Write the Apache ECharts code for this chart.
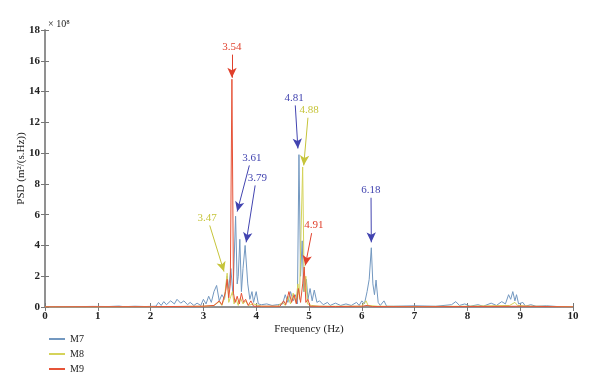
<!DOCTYPE html>
<html><head><meta charset="utf-8">
<script src="https://cdn.jsdelivr.net/npm/echarts@6/dist/echarts.min.js"></script>
<style>html,body{margin:0;padding:0;background:#fff}#c{width:600px;height:392px}</style>
</head><body><div id="c"></div>
<script>
const xTicks = [0,1,2,3,4,5,6,7,8,9,10];
const yTicks = [0,2,4,6,8,10,12,14,16,18];
const seriesNames = ['M7','M8','M9'];
const M7 = [[0,0.02],[0.3,0.03],[0.6,0.02],[0.9,0.04],[1.2,0.03],[1.4,0.06],[1.5,0.02],[1.7,0.05],[1.9,0.03],[2.1,0.05],
[2.15,0.3],[2.2,0.1],[2.25,0.35],[2.3,0.15],[2.38,0.4],[2.45,0.2],[2.5,0.5],[2.57,0.25],[2.63,0.4],[2.7,0.15],[2.75,0.3],[2.82,0.1],[2.88,0.25],[2.95,0.1],[3.0,0.5],[3.05,0.2],[3.1,0.7],[3.15,0.3],[3.2,1.0],[3.25,1.4],[3.3,0.4],[3.35,0.8],[3.4,0.5],[3.45,2.0],[3.48,1.2],[3.52,2.5],[3.56,0.8],[3.61,5.9],[3.64,1.5],[3.66,2.0],[3.69,4.4],[3.72,1.0],[3.75,2.5],[3.79,4.0],[3.84,1.5],[3.88,0.5],[3.92,1.0],[3.95,0.3],[4.0,1.0],[4.04,0.2],[4.1,0.15],[4.2,0.2],[4.3,0.1],[4.4,0.15],[4.5,0.2],[4.55,0.8],[4.6,0.3],[4.65,1.0],[4.7,0.4],[4.75,0.8],[4.78,0.2],[4.81,9.9],[4.84,2.0],[4.87,4.3],[4.9,1.0],[4.95,1.8],[4.98,0.5],[5.02,1.2],[5.06,0.4],[5.1,1.1],[5.15,0.3],[5.2,0.4],[5.27,0.15],[5.35,0.3],[5.4,0.1],[5.5,0.25],[5.6,0.1],[5.7,0.2],[5.8,0.1],[5.9,0.3],[5.95,0.1],[6.0,0.4],[6.05,0.2],[6.1,1.0],[6.14,1.8],[6.18,3.85],[6.21,1.5],[6.24,0.8],[6.27,1.75],[6.31,0.3],[6.35,0.1],[6.42,0.4],[6.47,0.05],
[6.6,0.05],[7.0,0.08],[7.4,0.05],[7.7,0.15],[7.78,0.35],[7.85,0.1],[7.95,0.2],[8.05,0.05],[8.2,0.15],[8.3,0.05],[8.45,0.25],[8.55,0.1],[8.65,0.35],[8.72,0.2],[8.78,0.8],[8.82,0.5],[8.86,1.0],[8.9,0.4],[8.93,0.8],[8.97,0.2],[9.05,0.3],[9.1,0.05],[9.2,0.15],[9.3,0.05],[9.5,0.08],[9.7,0.03],[10,0.02]];
const M8 = [[0,0.01],[1,0.01],[2,0.02],[2.5,0.03],[3.0,0.05],[3.2,0.1],[3.3,0.35],[3.35,0.1],[3.4,0.6],[3.45,2.2],[3.48,0.3],[3.52,0.7],[3.55,1.0],[3.58,0.2],[3.62,0.5],[3.66,0.1],[3.7,0.6],[3.75,0.2],[3.8,0.4],[3.85,0.1],[3.95,0.2],[4.1,0.05],[4.4,0.05],[4.5,0.3],[4.55,0.1],[4.6,0.7],[4.65,0.2],[4.7,0.9],[4.75,0.3],[4.79,1.5],[4.82,0.5],[4.85,5.0],[4.88,9.1],[4.91,1.0],[4.94,2.0],[4.97,0.2],[5.05,0.1],[5.2,0.05],[5.6,0.05],[6.0,0.05],[6.08,0.4],[6.12,0.1],[6.3,0.05],[7,0.03],[8,0.05],[8.8,0.1],[8.9,0.3],[8.95,0.1],[9.2,0.05],[10,0.02]];
const M9 = [[0,0.01],[1,0.02],[2,0.02],[3,0.05],[3.2,0.1],[3.3,0.4],[3.35,0.15],[3.42,1.0],[3.45,1.8],[3.48,0.6],[3.51,1.5],[3.54,14.8],[3.57,0.9],[3.6,0.3],[3.64,0.7],[3.68,0.2],[3.72,0.9],[3.76,0.3],[3.8,0.5],[3.85,0.1],[3.9,0.4],[3.95,0.05],[4.1,0.05],[4.45,0.05],[4.52,0.4],[4.56,0.15],[4.62,1.0],[4.67,0.3],[4.72,0.8],[4.76,0.2],[4.8,1.2],[4.84,0.3],[4.88,1.5],[4.91,2.6],[4.94,0.3],[4.98,0.5],[5.02,0.05],[5.5,0.03],[6.0,0.05],[6.1,0.1],[6.2,0.03],[7,0.02],[8,0.03],[9,0.05],[10,0.01]];
// annotations: label, label position, arrow start, arrow end (data units)
const annM7 = [['3.61',[3.92,9.7],[3.87,9.2],[3.64,6.2]],['3.79',[4.02,8.4],[3.98,7.9],[3.81,4.2]],['4.81',[4.72,13.6],[4.74,13.1],[4.79,10.3]],['6.18',[6.17,7.6],[6.175,7.1],[6.18,4.2]]];
const annM8 = [['3.47',[3.07,5.8],[3.12,5.3],[3.39,2.3]],['4.88',[5.0,12.8],[4.98,12.3],[4.9,9.2]]];
const annM9 = [['3.54',[3.54,16.9],[3.545,16.4],[3.54,14.9]],['4.91',[5.09,5.3],[5.05,4.8],[4.93,2.7]]];

const colors = ['#7398c0','#d5d35a','#e65338'];
const annColors = ['#4244b0','#c6c43a','#e0402c'];
const font = '"Liberation Serif","DejaVu Serif",serif';

function ann(list, c){
  return {
    markLine:{silent:true,symbol:['none','arrow'],symbolSize:[7,10],animation:false,
      lineStyle:{color:c,width:1,type:'solid'},label:{show:false},
      data:list.map(a=>[{coord:a[2]},{coord:a[3]}])},
    markPoint:{silent:true,symbol:'circle',symbolSize:1,itemStyle:{color:'rgba(0,0,0,0)'},animation:false,
      label:{show:true,position:'inside',color:c,fontFamily:font,fontSize:11},
      data:list.map(a=>({coord:a[1],value:a[0],label:{formatter:a[0]}}))}
  };
}

const chart = echarts.init(document.getElementById('c'));
const axisLine = {show:true,lineStyle:{color:'#8a8a8a',width:1.5}};
chart.setOption({
  animation:false,
  grid:{left:45,right:27,top:30,bottom:85},
  legend:{orient:'vertical',left:44,top:329,itemWidth:16,itemHeight:2,itemGap:5,
    icon:'rect',data:seriesNames,textStyle:{fontFamily:font,fontSize:10,color:'#222'}},
  graphic:[{type:'text',left:48,top:19,style:{text:'× 10⁸',font:'10px '+font,fill:'#222'}}],
  xAxis:[{type:'value',min:0,max:10,interval:1,position:'bottom',
    name:'Frequency (Hz)',nameLocation:'middle',nameGap:17,nameMoveOverlap:false,
    nameTextStyle:{fontFamily:font,fontSize:11,color:'#222'},
    axisLine:axisLine,axisTick:{inside:true,length:4,lineStyle:{color:'#777'}},
    axisLabel:{fontFamily:font,fontSize:11,color:'#222',fontWeight:'bold',margin:4,
      formatter:v=>xTicks.includes(v)?String(v):''},splitLine:{show:false}},
   {type:'value',min:0,max:10,interval:1,position:'top',axisLine:axisLine,
    axisTick:{inside:true,length:4,lineStyle:{color:'#777'}},axisLabel:{show:false},splitLine:{show:false}}],
  yAxis:[{type:'value',min:0,max:18,interval:2,position:'left',
    name:'PSD (m²/(s.Hz))',nameLocation:'middle',nameGap:18,nameMoveOverlap:false,
    nameTextStyle:{fontFamily:font,fontSize:11,color:'#222'},
    axisLine:axisLine,axisTick:{inside:true,length:4,lineStyle:{color:'#777'}},
    axisLabel:{fontFamily:font,fontSize:11,color:'#222',fontWeight:'bold',margin:5,
      formatter:v=>yTicks.includes(v)?String(v):''},splitLine:{show:false}},
   {type:'value',min:0,max:18,interval:2,position:'right',axisLine:axisLine,
    axisTick:{inside:true,length:4,lineStyle:{color:'#777'}},axisLabel:{show:false},splitLine:{show:false}}],
  series:[
    Object.assign({name:'M7',type:'line',data:M7,showSymbol:false,lineStyle:{width:1,color:colors[0]},itemStyle:{color:colors[0]},z:2},ann(annM7,annColors[0])),
    Object.assign({name:'M8',type:'line',data:M8,showSymbol:false,lineStyle:{width:1,color:colors[1]},itemStyle:{color:colors[1]},z:3},ann(annM8,annColors[1])),
    Object.assign({name:'M9',type:'line',data:M9,showSymbol:false,lineStyle:{width:1,color:colors[2]},itemStyle:{color:colors[2]},z:4},ann(annM9,annColors[2]))
  ]
});
</script></body></html>
